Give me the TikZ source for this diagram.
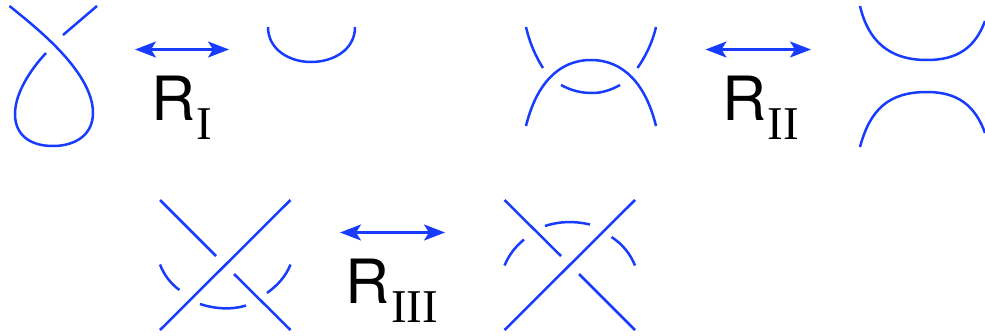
\documentclass[tikz,border=0pt]{standalone}
\usepackage{fontspec}
\setmainfont{TeX Gyre Heros}
\newfontfamily\subfont{Liberation Serif}
\usetikzlibrary{arrows.meta}
\definecolor{knot}{RGB}{24,60,255}
\tikzset{
  strand/.style={draw=knot,line width=2.5pt,line cap=butt},
  move/.style={draw=knot,line width=2.5pt,{Stealth[length=21pt,width=16pt,inset=5pt]}-{Stealth[length=21pt,width=16pt,inset=5pt]}},
  rname/.style={inner sep=0pt,anchor=base west,text=black,font=\fontsize{61}{61}\selectfont},
  rsub/.style={inner sep=0pt,anchor=base west,text=black,font=\subfont\fontsize{47}{47}\selectfont}
}
\begin{document}
\begin{tikzpicture}[x=1pt,y=-1pt]
\useasboundingbox (0,0) rectangle (985,335);
% R I
\draw[strand] (9.5,6) .. controls (30,23) and (93,70) .. (93,113) .. controls (93,135) and (75,146) .. (53,146) .. controls (30,146) and (15,135) .. (15,114) .. controls (15,92) and (32,68) .. (46,53);
\draw[strand] (63,35) -- (97,6);
\draw[strand] (268,27) .. controls (268,50) and (290,62) .. (311,62) .. controls (333,62) and (355,50) .. (355,27);
\coordinate (a1) at (135,49.5); \coordinate (a2) at (229,49.5);
\draw[move] (a1) -- (a2);
\node[rname] (r1) at (151,120) {R};
\node[rsub] (s1) at (196.5,139) {I};
% R II
\draw[strand] (526,27) .. controls (530,44) and (536,57) .. (543,68);
\draw[strand] (656,27) .. controls (652,44) and (645,57) .. (637.5,68);
\draw[strand] (526,126) .. controls (536,85) and (558,60) .. (591,60) .. controls (624,60) and (646,85) .. (656,126);
\draw[strand] (561,85) .. controls (572,91) and (582,93) .. (592,93) .. controls (602,93) and (611,90) .. (620,85);
\draw[strand] (860,6) .. controls (868,40) and (888,60) .. (927,60) .. controls (957,60) and (975,48) .. (985,21);
\draw[strand] (860,147) .. controls (870,110) and (888,92) .. (927,92) .. controls (957,92) and (975,105) .. (985,133);
\coordinate (b1) at (705.5,49.5); \coordinate (b2) at (811,49.5);
\draw[move] (b1) -- (b2);
\node[rname] (r2) at (722,120) {R};
\node[rsub] (s2) at (767.5,139) {II};
% R III left
\draw[strand] (160,200) -- (216,256);
\draw[strand] (290.5,200) -- (160,330);
\draw[strand] (234,274) -- (290.5,330);
\draw[strand] (160,264.5) .. controls (164,275) and (171,284) .. (179.5,290);
\draw[strand] (290.5,264.5) .. controls (286,276) and (278,285) .. (267,293);
\draw[strand] (200,304) .. controls (215,309) and (232,310) .. (246,305.5);
\coordinate (c1) at (340,232.5); \coordinate (c2) at (445,232.5);
\draw[move] (c1) -- (c2);
\node[rname] (r3) at (345,303) {R};
\node[rsub] (s3) at (391,322) {III};
% R III right
\draw[strand] (504.5,200) -- (561,256);
\draw[strand] (635,200) -- (504.5,330);
\draw[strand] (579,274) -- (635,330);
\draw[strand] (504.5,265.5) .. controls (509,255) and (515,247) .. (524,239.5);
\draw[strand] (545,226) .. controls (560,221) and (575,221) .. (590,224.5);
\draw[strand] (611.5,237) .. controls (622,244) and (630,253) .. (635,265.5);
\end{tikzpicture}
\end{document}
